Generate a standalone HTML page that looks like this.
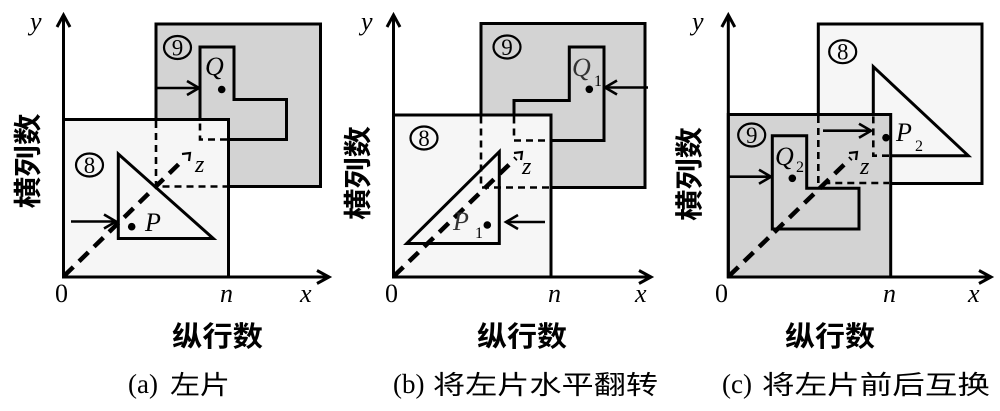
<!DOCTYPE html>
<html>
<head>
<meta charset="utf-8">
<style>
html,body{margin:0;padding:0;background:#fff;}
svg{display:block;}
.ser{font-family:"Liberation Serif","DejaVu Serif",serif;}
.it{font-family:"Liberation Serif","DejaVu Serif",serif;font-style:italic;}
.cjk{font-family:"Liberation Sans","Noto Sans CJK SC","WenQuanYi Zen Hei",sans-serif;}
</style>
</head>
<body>
<svg width="1000" height="411" viewBox="0 0 1000 411" xmlns="http://www.w3.org/2000/svg">
<rect x="0" y="0" width="1000" height="411" fill="#fff"/>

<!-- ================= Panel (a) ================= -->
<g fill="none" stroke="#000">
  <rect x="156" y="24" width="164.5" height="162.5" fill="#d3d3d3" stroke-width="3"/>
  <rect x="63.5" y="119.5" width="165" height="157.5" fill="#f6f6f6" stroke-width="3"/>
  <path d="M156,121 V186.5 H227" stroke-width="2.6" stroke-dasharray="7 5"/>
  <path d="M200,119.5 V47 H234 V99.5 H286.5 V139.5 H228.5" stroke-width="3"/>
  <path d="M227,139.5 H200 V121" stroke-width="2.6" stroke-dasharray="7 5"/>
  <path d="M157,88 H198" stroke-width="2.6"/>
  <path d="M187,81 L199,88 L187,95" stroke-width="2.6"/>
  <path d="M118.3,154 V238.5 H213.3 Z" stroke-width="3"/>
  <path d="M71,221.5 H115" stroke-width="2.6"/>
  <path d="M104,214.5 L116,221.5 L104,228.5" stroke-width="2.6"/>
  <ellipse cx="177.5" cy="47.5" rx="13.5" ry="11.5" stroke-width="2.2"/>
  <ellipse cx="89.5" cy="165" rx="13.5" ry="11.5" stroke-width="2.2"/>
  <path d="M64,276 L184,159" stroke-width="4.5" stroke-dasharray="13 8"/>
  <path d="M182,154 L190,153 L189,161" stroke-width="2.2"/>
  <path d="M63.5,278 V16" stroke-width="3"/>
  <path d="M57,27 L63.5,15 L70,27" stroke-width="3"/>
  <path d="M62,277 H328" stroke-width="3"/>
  <path d="M317,270.5 L329,277 L317,283.5" stroke-width="3"/>
</g>
<circle cx="221.7" cy="89.5" r="3.8" fill="#000"/>
<circle cx="131.7" cy="226.7" r="3.8" fill="#000"/>
<text x="177.5" y="55.5" class="ser" font-size="23" text-anchor="middle">9</text>
<text x="89.5" y="173" class="ser" font-size="23" text-anchor="middle">8</text>
<text x="205" y="75" class="it" font-size="26">Q</text>
<text x="145" y="231" class="it" font-size="26">P</text>
<text x="195" y="172" class="it" font-size="24">z</text>
<text x="30" y="30" class="it" font-size="26">y</text>
<text x="55" y="302" class="ser" font-size="26">0</text>
<text x="220" y="302" class="it" font-size="26">n</text>
<text x="300" y="302" class="it" font-size="26">x</text>
<text x="172" y="346" class="cjk" font-size="28" font-weight="bold" textLength="91" lengthAdjust="spacingAndGlyphs">纵行数</text>
<text transform="translate(27.5,161) rotate(-90)" x="0" y="10" class="cjk" font-size="28" font-weight="bold" text-anchor="middle" textLength="95" lengthAdjust="spacingAndGlyphs">横列数</text>
<text x="128" y="393" class="ser" font-size="27">(a)</text>
<text x="170" y="394" class="cjk" font-size="26" textLength="60" lengthAdjust="spacingAndGlyphs">左片</text>

<!-- ================= Panel (b) ================= -->
<g fill="none" stroke="#000">
  <rect x="481" y="23.5" width="164" height="164" fill="#d3d3d3" stroke-width="3"/>
  <rect x="393.5" y="115" width="157.5" height="162" fill="#f6f6f6" stroke-width="3"/>
  <path d="M481,116.5 V187.5 H549.5" stroke-width="2.6" stroke-dasharray="7 5"/>
  <path d="M549.5,140.5 H604 V47 H569.3 V100.5 H514 V115" stroke-width="3"/>
  <path d="M514,116.5 V140.5 H549.5" stroke-width="2.6" stroke-dasharray="7 5"/>
  <path d="M648,87.5 H607" stroke-width="2.6"/>
  <path d="M617,80.5 L605,87.5 L617,94.5" stroke-width="2.6"/>
  <path d="M499.3,151.7 V243.5 H406.7 Z" stroke-width="3"/>
  <path d="M545,222 H508" stroke-width="2.6"/>
  <path d="M518,215 L506,222 L518,229" stroke-width="2.6"/>
  <ellipse cx="507" cy="47" rx="13.5" ry="11.5" stroke-width="2.2"/>
  <ellipse cx="424" cy="138" rx="13.5" ry="11.5" stroke-width="2.2"/>
  <path d="M394,276 L516,158" stroke-width="4.5" stroke-dasharray="13 8"/>
  <path d="M514,153 L522,152 L521,160" stroke-width="2.2"/>
  <path d="M393.5,278 V16" stroke-width="3"/>
  <path d="M387,27 L393.5,15 L400,27" stroke-width="3"/>
  <path d="M392,277 H650" stroke-width="3"/>
  <path d="M639,270.5 L651,277 L639,283.5" stroke-width="3"/>
</g>
<circle cx="589.3" cy="89.3" r="3.8" fill="#000"/>
<circle cx="487.3" cy="225" r="3.8" fill="#000"/>
<text x="507" y="55" class="ser" font-size="23" text-anchor="middle">9</text>
<text x="424" y="146" class="ser" font-size="23" text-anchor="middle">8</text>
<text x="572" y="76" class="it" font-size="26" fill="#333">Q</text>
<text x="594" y="86" class="ser" font-size="16">1</text>
<text x="453" y="230" class="it" font-size="26" fill="#333">P</text>
<text x="475" y="238" class="ser" font-size="16">1</text>
<text x="522" y="174" class="it" font-size="24">z</text>
<text x="361" y="30" class="it" font-size="26">y</text>
<text x="385" y="302" class="ser" font-size="26">0</text>
<text x="548" y="302" class="it" font-size="26">n</text>
<text x="635" y="302" class="it" font-size="26">x</text>
<text x="477" y="346" class="cjk" font-size="28" font-weight="bold" textLength="90" lengthAdjust="spacingAndGlyphs">纵行数</text>
<text transform="translate(357.5,173) rotate(-90)" x="0" y="10" class="cjk" font-size="28" font-weight="bold" text-anchor="middle" textLength="94" lengthAdjust="spacingAndGlyphs">横列数</text>
<text x="393" y="393" class="ser" font-size="27">(b)</text>
<text x="433" y="394" class="cjk" font-size="26" textLength="225" lengthAdjust="spacingAndGlyphs">将左片水平翻转</text>

<!-- ================= Panel (c) ================= -->
<g fill="none" stroke="#000">
  <rect x="818.3" y="24" width="163.7" height="159.5" fill="#f6f6f6" stroke-width="3"/>
  <rect x="728.3" y="114.5" width="162.4" height="162.5" fill="#d3d3d3" stroke-width="3"/>
  <path d="M818.3,116 V183 H889" stroke-width="2.6" stroke-dasharray="7 5"/>
  <path d="M873.3,114.5 V66.7 L968.3,155.7 H890.7" stroke-width="3"/>
  <path d="M889,155.7 H873.3 V116" stroke-width="2.6" stroke-dasharray="7 5"/>
  <path d="M823,130.7 H869" stroke-width="2.6"/>
  <path d="M859,123.7 L871,130.7 L859,137.7" stroke-width="2.6"/>
  <path d="M772.3,135.7 H806.7 V188.3 H859 V229 H772.3 Z" stroke-width="3"/>
  <path d="M729,176.7 H769" stroke-width="2.6"/>
  <path d="M759,169.7 L771,176.7 L759,183.7" stroke-width="2.6"/>
  <ellipse cx="751.7" cy="135" rx="13.5" ry="11.5" stroke-width="2.2"/>
  <ellipse cx="842.7" cy="51.7" rx="13.5" ry="11.5" stroke-width="2.2"/>
  <path d="M729,276 L851,158" stroke-width="4.5" stroke-dasharray="13 8"/>
  <path d="M849,153 L857,152 L856,160" stroke-width="2.2"/>
  <path d="M728.3,278 V16" stroke-width="3"/>
  <path d="M721.8,27 L728.3,15 L734.8,27" stroke-width="3"/>
  <path d="M727,277 H990" stroke-width="3"/>
  <path d="M979,270.5 L991,277 L979,283.5" stroke-width="3"/>
</g>
<circle cx="886" cy="137.7" r="3.8" fill="#000"/>
<circle cx="792.3" cy="178.3" r="3.8" fill="#000"/>
<text x="751.7" y="143" class="ser" font-size="23" text-anchor="middle">9</text>
<text x="842.7" y="59.7" class="ser" font-size="23" text-anchor="middle">8</text>
<text x="896" y="141" class="it" font-size="26">P</text>
<text x="915" y="151" class="ser" font-size="16">2</text>
<text x="775" y="165" class="it" font-size="26">Q</text>
<text x="796" y="172" class="ser" font-size="16">2</text>
<text x="860" y="174" class="it" font-size="24">z</text>
<text x="692" y="30" class="it" font-size="26">y</text>
<text x="715" y="302" class="ser" font-size="26">0</text>
<text x="883" y="302" class="it" font-size="26">n</text>
<text x="968" y="302" class="it" font-size="26">x</text>
<text x="785" y="346" class="cjk" font-size="28" font-weight="bold" textLength="90" lengthAdjust="spacingAndGlyphs">纵行数</text>
<text transform="translate(689,174) rotate(-90)" x="0" y="10" class="cjk" font-size="28" font-weight="bold" text-anchor="middle" textLength="94" lengthAdjust="spacingAndGlyphs">横列数</text>
<text x="722" y="393" class="ser" font-size="27">(c)</text>
<text x="762" y="394" class="cjk" font-size="26" textLength="228" lengthAdjust="spacingAndGlyphs">将左片前后互换</text>
</svg>
</body>
</html>
